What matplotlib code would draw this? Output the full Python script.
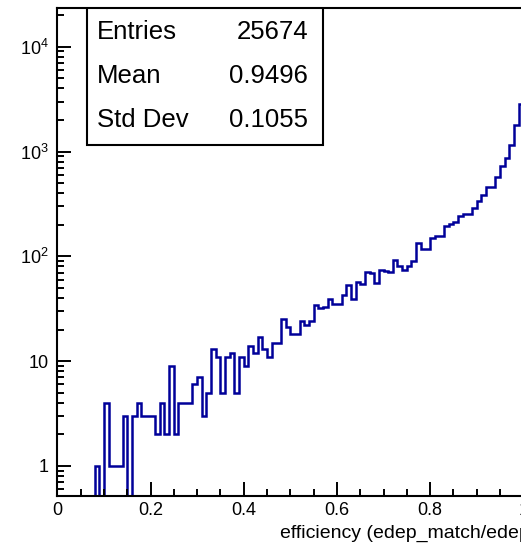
import numpy as np
import matplotlib
matplotlib.use("Agg")
import matplotlib.pyplot as plt
from matplotlib.ticker import FixedLocator, MultipleLocator, LogLocator, NullFormatter

plt.rcParams['font.family'] = ['Liberation Sans', 'DejaVu Sans']
plt.rcParams['mathtext.fontset'] = 'custom'
plt.rcParams['mathtext.rm'] = 'Liberation Sans'

# histogram: 100 bins in [0, 1]
bin_edges = np.linspace(0.0, 1.0, 101)
counts = np.array([
    0, 0, 0, 0, 0, 0, 0, 0, 1, 0,
    4, 1, 1, 1, 3, 0, 3, 4, 3, 3,
    3, 2, 4, 2, 9, 2, 4, 4, 4, 6,
    7, 3, 5, 13, 11, 5, 11, 12, 5, 11,
    9, 14, 12, 17, 13, 11, 15, 15, 25, 21,
    18, 18, 24, 22, 24, 34, 32, 33, 39, 35,
    35, 43, 53, 39, 57, 55, 71, 69, 56, 74,
    73, 71, 92, 80, 74, 81, 90, 135, 117, 117,
    149, 155, 157, 196, 204, 211, 245, 254, 254, 292,
    340, 388, 462, 462, 575, 725, 875, 1156, 1800, 2826,
])

stat_names = ['Entries', 'Mean', 'Std Dev']
stat_values = ['25674', '0.9496', '0.1055']

y_ticks = [1, 10, 100, 1000, 10000]
y_tick_labels = ['1', '10', r'$\mathregular{10^{2}}$', r'$\mathregular{10^{3}}$', r'$\mathregular{10^{4}}$']
x_ticks = [0, 0.2, 0.4, 0.6, 0.8, 1.0]
x_tick_labels = ['0', '0.2', '0.4', '0.6', '0.8', '1']

W, H = 521, 547
fig = plt.figure(figsize=(W / 100, H / 100), dpi=100)
# axis frame: x=0 at px 57.3, x=1 at px 523.3 (cropped), y from px 8 to 496
ax = fig.add_axes([57.3 / W, (H - 496) / H, 466 / W, 488 / H])

# zero bins drop below the axis (log scale)
drawn = np.where(counts > 0, counts, 1e-3)
ax.stairs(drawn, bin_edges, color='#000099', lw=1.8, baseline=1e-3)

ax.set_yscale('log')
ax.set_xlim(0, 1.0)
ax.set_ylim(0.517, 23400)

ax.xaxis.set_major_locator(FixedLocator(x_ticks))
ax.set_xticklabels(x_tick_labels)
ax.xaxis.set_minor_locator(MultipleLocator(0.05))
ax.yaxis.set_major_locator(FixedLocator(y_ticks))
ax.set_yticklabels(y_tick_labels)
ax.yaxis.set_minor_locator(LogLocator(base=10, subs=np.arange(2, 10)))
ax.yaxis.set_minor_formatter(NullFormatter())

ax.tick_params(axis='both', which='major', direction='in', length=10, width=1.4,
               labelsize=13, pad=6)
ax.tick_params(axis='both', which='minor', direction='in', length=5, width=1.4)
ax.tick_params(axis='x', which='major', pad=4)
for s in ax.spines.values():
    s.set_linewidth(1.5)

ax.text(0.478, -0.076, 'efficiency (edep_match/edep_total)', transform=ax.transAxes,
        ha='left', va='center', fontsize=14)

# stats box
box_l, box_r = (87.3 - 57.3) / 466, (323.3 - 57.3) / 466
box_b = (496 - 145) / 488
box = plt.Rectangle((box_l, box_b), box_r - box_l, 1.0 - box_b, transform=ax.transAxes,
                    facecolor='white', edgecolor='black', lw=1.5, zorder=5)
ax.add_patch(box)
row_y = [32, 76, 120]
for name, val, py in zip(stat_names, stat_values, row_y):
    yy = (496 - py) / 488
    ax.text((97 - 57.3) / 466, yy, name, transform=ax.transAxes, ha='left', va='center',
            fontsize=18.5, zorder=6)
    ax.text((308 - 57.3) / 466, yy, val, transform=ax.transAxes, ha='right', va='center',
            fontsize=18.5, zorder=6)

fig.savefig('out.png', dpi=100)
